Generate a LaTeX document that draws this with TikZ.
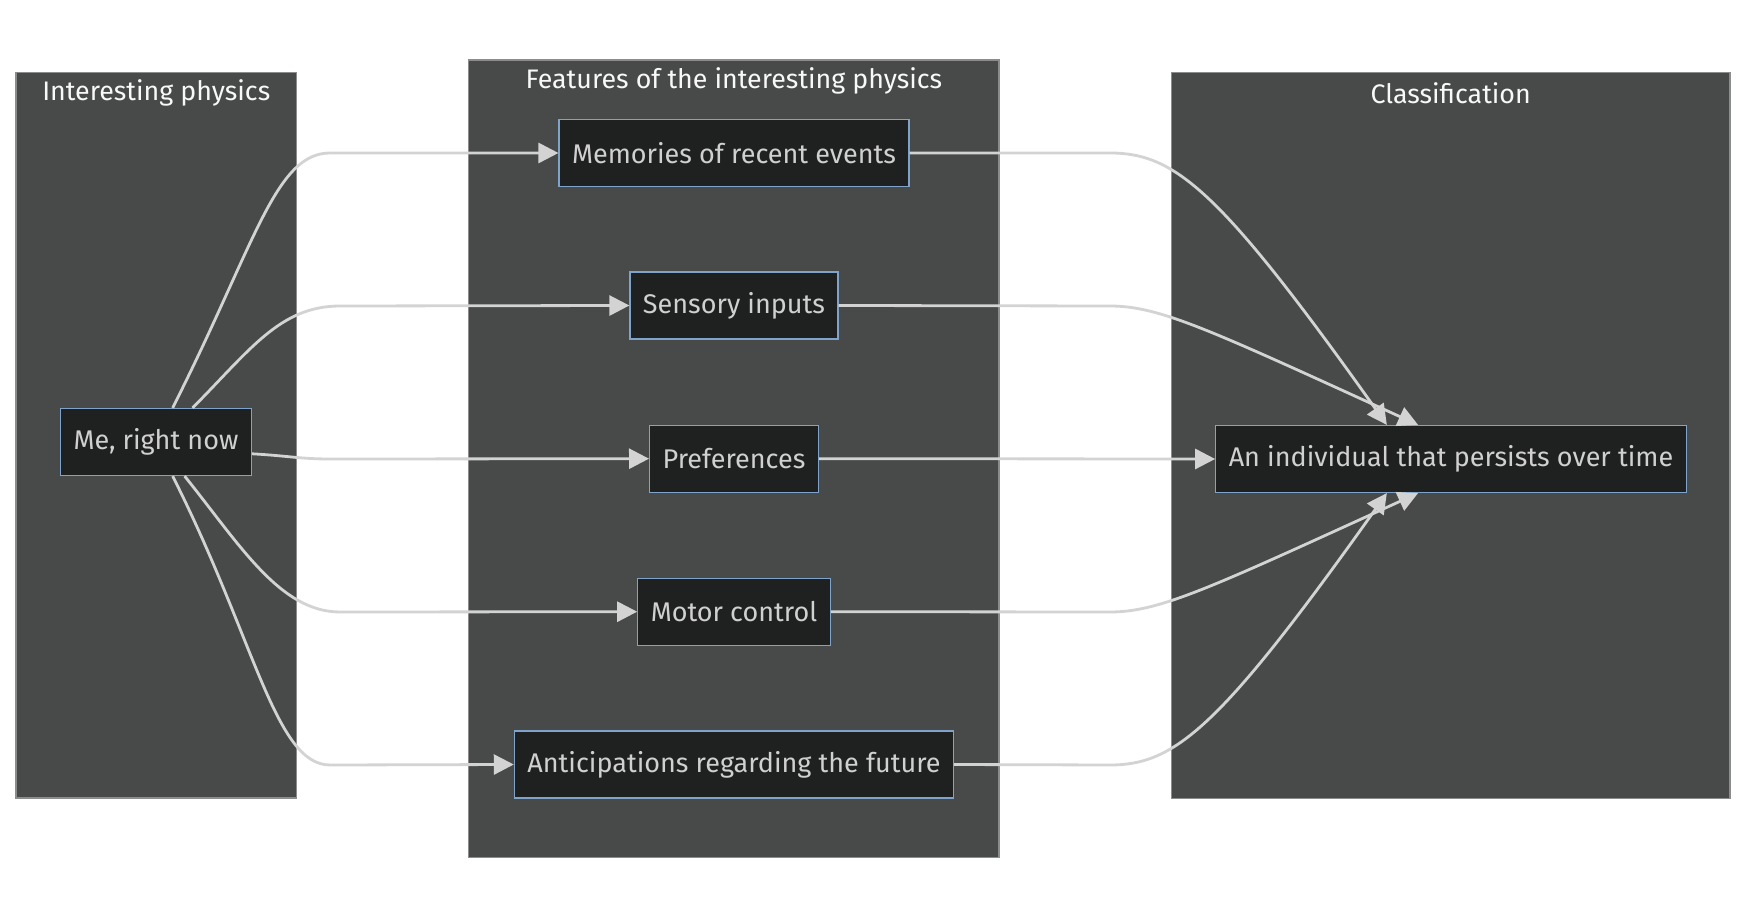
\documentclass[tikz,border=0pt]{standalone}
\usepackage{fontspec}
\setmainfont{Fira Sans}
\usetikzlibrary{arrows.meta}

\definecolor{groupbg}{HTML}{484A4A}
\definecolor{groupline}{HTML}{8C8C8C}
\definecolor{boxbg}{HTML}{1F2020}
\definecolor{boxline}{HTML}{7FA3CB}
\definecolor{boxtext}{HTML}{D0D0D0}
\definecolor{linkcol}{HTML}{D3D3D3}
\definecolor{titletext}{HTML}{F8F8F8}

\tikzset{
  box/.style={draw=boxline, fill=boxbg, text=boxtext, line width=0.6pt,
    minimum height=33.5pt, inner xsep=6.5pt, font=\fontsize{13.5}{16}\selectfont},
  group/.style={draw=groupline, fill=groupbg, line width=0.6pt},
  grouptitle/.style={text=titletext, inner sep=0pt, font=\fontsize{13.4}{16}\selectfont},
  link/.style={draw=linkcol, line width=1.4pt, -{Triangle[length=10pt,width=10pt]}},
}

\begin{document}
\begin{tikzpicture}[x=0.5pt, y=-0.5pt]
    \fill[white] (0,0) rectangle (1746,898);
    \useasboundingbox (0,0) rectangle (1746,898);

    % groups
    \draw[group] (16,72.5) rectangle (296.7,798);
    \draw[group] (468.7,60) rectangle (999,857.7);
    \draw[group] (1171.3,72.3) rectangle (1730,798.3);
    \node[grouptitle] (t1) at (156.3,93) {Interesting physics};
    \node[grouptitle] (t2) at (733.9,81) {Features of the interesting physics};
    \node[grouptitle] (t3) at (1450.7,93) {Classification};

    % boxes
    \node[box] (me)   at (156,442)   {Me, right now};
    \node[box] (mem)  at (734,153)   {Memories of recent events};
    \node[box] (sens) at (734,305.5) {Sensory inputs};
    \node[box] (pref) at (734,458.7) {Preferences};
    \node[box] (mot)  at (734,611.7) {Motor control};
    \node[box] (ant)  at (734,764.5) {Anticipations regarding the future};
    \node[box] (ind)  at (1451,459)  {An individual that persists over time};

    % left links
    \draw[link] (me.64) .. controls (255,245) and (275,153) .. (330,153) -- (mem.west);
    \draw[link] (me.43) .. controls (250,350) and (280,306) .. (340,306) -- (sens.west);
    \draw[link] (me.-7) .. controls (290,456) and (300,459) .. (330,459) -- (pref.west);
    \draw[link] (me.-50) .. controls (240,545) and (280,612) .. (340,612) -- (mot.west);
    \draw[link] (me.-64) .. controls (255,639) and (275,765) .. (330,765) -- (ant.west);

    % right links
    \draw[link] (mem.east) -- (1110,153) .. controls (1175,153) and (1220,190) .. (ind.152);
    \draw[link] (sens.east) -- (1110,306) .. controls (1160,306) and (1210,330) .. (ind.134);
    \draw[link] (pref.east) -- (ind.west);
    \draw[link] (mot.east) -- (1110,612) .. controls (1160,612) and (1210,588) .. (ind.-134);
    \draw[link] (ant.east) -- (1110,765) .. controls (1175,765) and (1220,728) .. (ind.-152);
\end{tikzpicture}
\end{document}
